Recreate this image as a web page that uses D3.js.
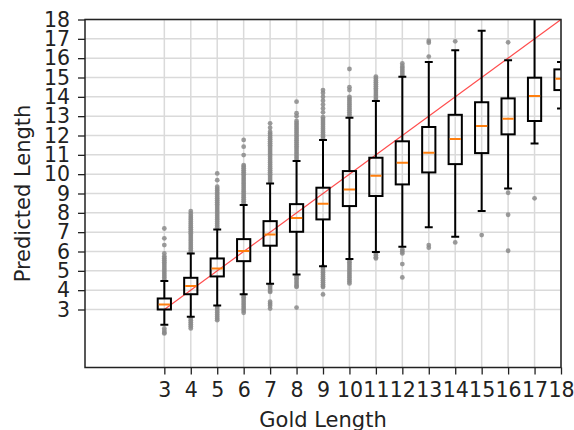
<!DOCTYPE html>
<html>
<head>
<meta charset="utf-8">
<script src="https://cdn.jsdelivr.net/npm/d3@7"></script>
<style>
	body { margin: 0; background: #fff; }
	svg text { font-family: "DejaVu Sans", sans-serif; fill: #222; }
</style>
</head>
<body>
<div id="chart"></div>
<script>
/* global d3: true */

// gold length buckets and the box stats
var categories = [3, 4, 5, 6, 7, 8, 9, 10, 11, 12, 13, 14, 15, 16, 17, 18];
var whiskLo = [2.21, 2.62, 3.21, 3.79, 4.33, 4.81, 5.24, 5.61, 5.97, 6.24, 7.25, 6.76, 8.09, 9.26, 11.59, 13.40];
var q1      = [3.00, 3.79, 4.71, 5.50, 6.30, 7.02, 7.66, 8.35, 8.87, 9.47, 10.09, 10.52, 11.09, 12.06, 12.75, 14.35];
var median  = [3.26, 4.21, 5.12, 6.02, 6.88, 7.73, 8.47, 9.21, 9.92, 10.59, 11.11, 11.82, 12.49, 12.87, 14.04, 14.94];
var q3      = [3.57, 4.64, 5.64, 6.64, 7.57, 8.45, 9.30, 10.16, 10.85, 11.70, 12.44, 13.07, 13.72, 13.92, 14.99, 15.42];
var whiskHi = [4.48, 5.90, 7.14, 8.40, 9.52, 10.68, 11.77, 12.92, 13.78, 15.04, 15.80, 16.41, 17.42, 15.89, 18.60, 15.80];

// outliers per bucket, same order as categories
var fliers = [
	[2.02, 1.9, 1.8, 1.76, 4.55, 4.65, 4.75, 4.85, 4.95, 5.05, 5.15, 5.25, 5.35, 5.45, 5.55, 5.65, 5.75, 5.9, 6.33, 6.68, 7.19],
	[2.54, 2.44, 2.34, 2.24, 2.14, 2.02, 5.95, 6.05, 6.15, 6.25, 6.35, 6.45, 6.55, 6.65, 6.75, 6.85, 6.95, 7.05, 7.15, 7.25, 7.35, 7.45, 7.55, 7.65, 7.75, 7.85, 7.97, 8.09],
	[3.14, 3.04, 2.94, 2.84, 2.74, 2.64, 2.54, 2.45, 7.25, 7.35, 7.45, 7.55, 7.65, 7.75, 7.85, 7.95, 8.05, 8.15, 8.25, 8.35, 8.45, 8.55, 8.65, 8.75, 8.85, 8.95, 9.05, 9.15, 9.25, 9.35, 9.69, 10.04],
	[3.74, 3.64, 3.54, 3.44, 3.34, 3.24, 3.14, 3.04, 2.94, 2.83, 8.5, 8.6, 8.7, 8.8, 8.9, 9.0, 9.1, 9.2, 9.3, 9.4, 9.5, 9.6, 9.7, 9.8, 9.9, 10.0, 10.1, 10.2, 10.3, 10.4, 10.47, 10.99, 11.42, 11.77],
	[4.26, 4.16, 4.06, 3.96, 3.91, 3.4, 3.3, 3.2, 3.05, 9.6, 9.7, 9.8, 9.9, 10.0, 10.1, 10.2, 10.3, 10.4, 10.5, 10.6, 10.7, 10.8, 10.9, 11.0, 11.1, 11.2, 11.3, 11.4, 11.5, 11.6, 11.7, 11.8, 11.9, 12.0, 12.1, 12.2, 12.4, 12.63],
	[4.72, 4.62, 4.52, 4.42, 4.32, 4.22, 4.17, 3.1, 10.75, 10.85, 10.95, 11.05, 11.15, 11.25, 11.35, 11.45, 11.55, 11.65, 11.75, 11.85, 11.95, 12.05, 12.15, 12.25, 12.35, 12.45, 12.55, 12.65, 12.75, 13.0, 13.15, 13.75],
	[5.21, 5.11, 5.01, 4.91, 4.81, 4.71, 4.61, 4.51, 4.41, 4.31, 4.21, 4.17, 3.78, 11.85, 11.95, 12.05, 12.15, 12.25, 12.35, 12.45, 12.55, 12.65, 12.75, 12.85, 12.95, 13.2, 13.4, 13.6, 13.8, 14.0, 14.2, 14.35],
	[5.55, 5.45, 5.35, 5.25, 5.15, 5.05, 4.95, 4.85, 4.75, 4.65, 4.55, 4.45, 4.35, 13.0, 13.1, 13.2, 13.3, 13.4, 13.5, 13.6, 13.7, 13.8, 13.9, 14.0, 14.35, 14.5, 15.44],
	[5.9, 5.8, 5.7, 5.64, 13.85, 13.95, 14.05, 14.15, 14.25, 14.35, 14.45, 14.55, 14.65, 14.75, 14.85, 14.95, 15.05],
	[6.1, 6.0, 5.9, 5.35, 4.66, 15.1, 15.2, 15.3, 15.4, 15.5, 15.6, 15.73],
	[6.33, 6.2, 16.08, 16.8, 16.9],
	[6.47, 16.87],
	[6.85],
	[9.04, 7.9, 6.04, 16.82],
	[8.75],
	[]
];

var tickValues = [3, 4, 5, 6, 7, 8, 9, 10, 11, 12, 13, 14, 15, 16, 17, 18];

(function (d3) {
	"use strict";

	var width = 574,
		height = 430,
		margin = {top: 19.5, right: 13, bottom: 62.5, left: 85},
		boxWidth = 0.5,
		capWidth = 0.3,
		gridColor = "#dadada",
		medianColor = "#ff7f0e",
		flierColor = "#8a8a8a";

	var svg = d3.select("#chart").append("svg")
		.attr("width", width)
		.attr("height", height);

	var x = d3.scaleLinear().domain([0, 18]).range([margin.left, width - margin.right]);
	var y = d3.scaleLinear().domain([0, 18]).range([height - margin.bottom, margin.top]);

	svg.append("defs").append("clipPath").attr("id", "plot-clip")
		.append("rect")
		.attr("x", margin.left).attr("y", margin.top)
		.attr("width", x.range()[1] - x.range()[0])
		.attr("height", y.range()[0] - y.range()[1]);

	// grid lines
	var grid = svg.append("g").attr("class", "grid")
		.attr("stroke", gridColor).attr("stroke-width", 1.5);
	grid.selectAll("line.gx").data(tickValues).enter().append("line")
		.attr("class", "gx")
		.attr("x1", function(d) { return x(d); }).attr("x2", function(d) { return x(d); })
		.attr("y1", y.range()[0]).attr("y2", y.range()[1]);
	grid.selectAll("line.gy").data(tickValues).enter().append("line")
		.attr("class", "gy")
		.attr("y1", function(d) { return y(d); }).attr("y2", function(d) { return y(d); })
		.attr("x1", x.range()[0]).attr("x2", x.range()[1]);

	var plot = svg.append("g").attr("clip-path", "url(#plot-clip)");

	var rows = categories.map(function(c, i) {
		return {c: c, lo: whiskLo[i], q1: q1[i], med: median[i], q3: q3[i], hi: whiskHi[i], fl: fliers[i]};
	});

	// fliers first so the boxes sit on top
	var flierData = [];
	rows.forEach(function(r) {
		r.fl.forEach(function(v) { flierData.push({c: r.c, v: v}); });
	});
	plot.append("g").selectAll("circle").data(flierData).enter().append("circle")
		.attr("cx", function(d) { return x(d.c); })
		.attr("cy", function(d) { return y(d.v); })
		.attr("r", 2.4)
		.attr("fill", flierColor)
		.attr("fill-opacity", 0.85);

	// y = x reference line
	plot.append("line")
		.attr("x1", x(3)).attr("y1", y(3))
		.attr("x2", x(18)).attr("y2", y(18))
		.attr("stroke", "red").attr("stroke-opacity", 0.7).attr("stroke-width", 1.2);

	var boxes = plot.selectAll("g.box").data(rows).enter().append("g")
		.attr("class", "box")
		.attr("stroke", "#000").attr("stroke-width", 2).attr("fill", "none");

	boxes.append("line") // lower whisker
		.attr("x1", function(d) { return x(d.c); }).attr("x2", function(d) { return x(d.c); })
		.attr("y1", function(d) { return y(d.q1); }).attr("y2", function(d) { return y(d.lo); });
	boxes.append("line") // upper whisker
		.attr("x1", function(d) { return x(d.c); }).attr("x2", function(d) { return x(d.c); })
		.attr("y1", function(d) { return y(d.q3); }).attr("y2", function(d) { return y(d.hi); });
	boxes.append("line") // lower cap
		.attr("x1", function(d) { return x(d.c - capWidth / 2); }).attr("x2", function(d) { return x(d.c + capWidth / 2); })
		.attr("y1", function(d) { return y(d.lo); }).attr("y2", function(d) { return y(d.lo); });
	boxes.append("line") // upper cap
		.attr("x1", function(d) { return x(d.c - capWidth / 2); }).attr("x2", function(d) { return x(d.c + capWidth / 2); })
		.attr("y1", function(d) { return y(d.hi); }).attr("y2", function(d) { return y(d.hi); });
	boxes.append("rect")
		.attr("x", function(d) { return x(d.c - boxWidth / 2); })
		.attr("width", function(d) { return x(d.c + boxWidth / 2) - x(d.c - boxWidth / 2); })
		.attr("y", function(d) { return y(d.q3); })
		.attr("height", function(d) { return y(d.q1) - y(d.q3); });
	boxes.append("line") // median
		.attr("stroke", medianColor)
		.attr("x1", function(d) { return x(d.c - boxWidth / 2) + 1; }).attr("x2", function(d) { return x(d.c + boxWidth / 2) - 1; })
		.attr("y1", function(d) { return y(d.med); }).attr("y2", function(d) { return y(d.med); });

	// axes
	var xAxis = d3.axisBottom(x).tickValues(tickValues).tickSize(7).tickPadding(8).tickFormat(d3.format("d"));
	var yAxis = d3.axisLeft(y).tickValues(tickValues).tickSize(7).tickPadding(8).tickFormat(d3.format("d"));

	var gx = svg.append("g").attr("transform", "translate(0," + y.range()[0] + ")").call(xAxis);
	var gy = svg.append("g").attr("transform", "translate(" + x.range()[0] + ",0)").call(yAxis);
	[gx, gy].forEach(function(g) {
		g.select(".domain").remove();
		g.selectAll(".tick line").attr("stroke", "#222").attr("stroke-width", 1.3);
		g.selectAll(".tick text").attr("font-size", 20.5).attr("fill", "#222");
	});

	// frame
	svg.append("rect")
		.attr("x", x.range()[0]).attr("y", y.range()[1])
		.attr("width", x.range()[1] - x.range()[0])
		.attr("height", y.range()[0] - y.range()[1])
		.attr("fill", "none").attr("stroke", "#222").attr("stroke-width", 1.5);

	svg.append("text")
		.attr("x", (x.range()[0] + x.range()[1]) / 2)
		.attr("y", 427)
		.attr("text-anchor", "middle")
		.attr("font-size", 21)
		.text("Gold Length");

	svg.append("text")
		.attr("transform", "translate(30," + (y.range()[0] + y.range()[1]) / 2 + ") rotate(-90)")
		.attr("text-anchor", "middle")
		.attr("font-size", 21)
		.text("Predicted Length");

}(d3));
</script>
</body>
</html>
